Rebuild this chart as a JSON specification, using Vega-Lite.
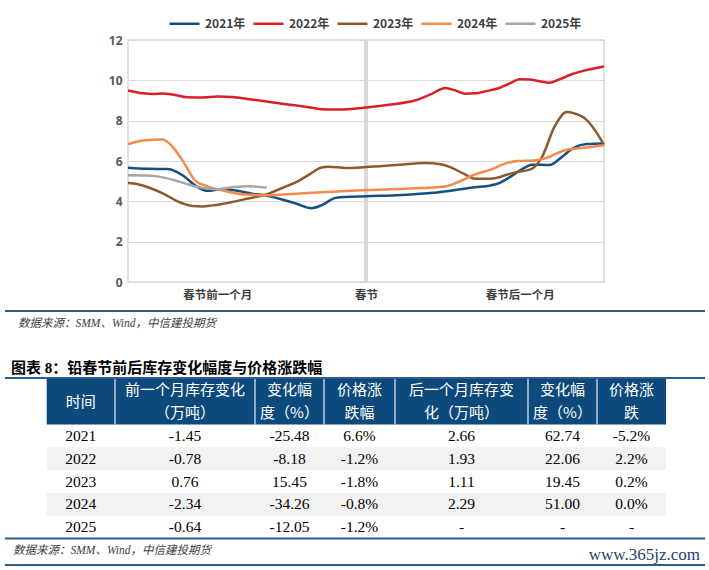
{
  "$schema": "https://vega.github.io/schema/vega-lite/v6.json",
  "width": 476,
  "height": 242,
  "autosize": {"type": "none"},
  "padding": {"left": 128, "top": 40, "right": 105, "bottom": 288},
  "background": "#ffffff",
  "config": {"view": {"stroke": "#d9d9d9", "strokeWidth": 1.5}},
  "datasets": {
    "lines": [
      {"y":"2021年","d":-48,"v":5.67},{"y":"2021年","d":-44,"v":5.61},{"y":"2021年","d":-40,"v":5.6},{"y":"2021年","d":-38.5,"v":5.5},{"y":"2021年","d":-37,"v":5.29},{"y":"2021年","d":-34,"v":4.71},{"y":"2021年","d":-32,"v":4.52},{"y":"2021年","d":-29,"v":4.61},{"y":"2021年","d":-26,"v":4.52},{"y":"2021年","d":-23,"v":4.38},{"y":"2021年","d":-20,"v":4.28},{"y":"2021年","d":-14,"v":3.88},{"y":"2021年","d":-11,"v":3.66},{"y":"2021年","d":-9,"v":3.8},{"y":"2021年","d":-6,"v":4.18},{"y":"2021年","d":0,"v":4.25},{"y":"2021年","d":6,"v":4.3},{"y":"2021年","d":13,"v":4.41},{"y":"2021年","d":18,"v":4.56},{"y":"2021年","d":22,"v":4.7},{"y":"2021年","d":25,"v":4.78},{"y":"2021年","d":27,"v":4.92},{"y":"2021年","d":29,"v":5.2},{"y":"2021年","d":31,"v":5.52},{"y":"2021年","d":33.5,"v":5.82},{"y":"2021年","d":37,"v":5.8},{"y":"2021年","d":39.5,"v":6.2},{"y":"2021年","d":42,"v":6.67},{"y":"2021年","d":44.5,"v":6.84},{"y":"2021年","d":48,"v":6.87},
      {"y":"2022年","d":-48,"v":9.5},{"y":"2022年","d":-45,"v":9.36},{"y":"2022年","d":-43,"v":9.32},{"y":"2022年","d":-41,"v":9.35},{"y":"2022年","d":-39,"v":9.3},{"y":"2022年","d":-36,"v":9.16},{"y":"2022年","d":-33,"v":9.15},{"y":"2022年","d":-30,"v":9.2},{"y":"2022年","d":-27,"v":9.17},{"y":"2022年","d":-24,"v":9.08},{"y":"2022年","d":-17,"v":8.84},{"y":"2022年","d":-12,"v":8.68},{"y":"2022年","d":-9,"v":8.57},{"y":"2022年","d":-6,"v":8.55},{"y":"2022年","d":-3,"v":8.58},{"y":"2022年","d":0,"v":8.65},{"y":"2022年","d":5,"v":8.8},{"y":"2022年","d":10,"v":9.01},{"y":"2022年","d":13,"v":9.3},{"y":"2022年","d":16,"v":9.62},{"y":"2022年","d":18,"v":9.5},{"y":"2022年","d":20,"v":9.34},{"y":"2022年","d":22,"v":9.36},{"y":"2022年","d":24,"v":9.45},{"y":"2022年","d":27,"v":9.63},{"y":"2022年","d":29,"v":9.85},{"y":"2022年","d":31,"v":10.05},{"y":"2022年","d":33,"v":10.04},{"y":"2022年","d":35,"v":9.95},{"y":"2022年","d":37,"v":9.88},{"y":"2022年","d":39,"v":10.05},{"y":"2022年","d":41.5,"v":10.3},{"y":"2022年","d":44,"v":10.48},{"y":"2022年","d":48,"v":10.69},
      {"y":"2023年","d":-48,"v":4.91},{"y":"2023年","d":-46,"v":4.85},{"y":"2023年","d":-44,"v":4.7},{"y":"2023年","d":-41,"v":4.4},{"y":"2023年","d":-38,"v":4.0},{"y":"2023年","d":-35,"v":3.77},{"y":"2023年","d":-33,"v":3.75},{"y":"2023年","d":-31,"v":3.8},{"y":"2023年","d":-27,"v":3.97},{"y":"2023年","d":-24,"v":4.13},{"y":"2023年","d":-20,"v":4.35},{"y":"2023年","d":-17,"v":4.65},{"y":"2023年","d":-14,"v":4.96},{"y":"2023年","d":-11,"v":5.4},{"y":"2023年","d":-9,"v":5.68},{"y":"2023年","d":-7.5,"v":5.72},{"y":"2023年","d":-4,"v":5.65},{"y":"2023年","d":0,"v":5.7},{"y":"2023年","d":6,"v":5.8},{"y":"2023年","d":12,"v":5.9},{"y":"2023年","d":15,"v":5.84},{"y":"2023年","d":17,"v":5.7},{"y":"2023年","d":19.5,"v":5.4},{"y":"2023年","d":22,"v":5.12},{"y":"2023年","d":25,"v":5.12},{"y":"2023年","d":29.5,"v":5.4},{"y":"2023年","d":33.5,"v":5.62},{"y":"2023年","d":35.5,"v":6.2},{"y":"2023年","d":38,"v":7.69},{"y":"2023年","d":40.5,"v":8.43},{"y":"2023年","d":42,"v":8.36},{"y":"2023年","d":44.2,"v":8.1},{"y":"2023年","d":46.2,"v":7.52},{"y":"2023年","d":48,"v":6.8},
      {"y":"2024年","d":-48,"v":6.83},{"y":"2024年","d":-45,"v":7.02},{"y":"2024年","d":-41,"v":7.06},{"y":"2024年","d":-40,"v":6.94},{"y":"2024年","d":-38.5,"v":6.55},{"y":"2024年","d":-37,"v":6.03},{"y":"2024年","d":-34.5,"v":5.04},{"y":"2024年","d":-32.5,"v":4.79},{"y":"2024年","d":-28.5,"v":4.51},{"y":"2024年","d":-25,"v":4.35},{"y":"2024年","d":-20,"v":4.3},{"y":"2024年","d":-14,"v":4.38},{"y":"2024年","d":-8,"v":4.46},{"y":"2024年","d":0,"v":4.56},{"y":"2024年","d":8,"v":4.63},{"y":"2024年","d":16,"v":4.74},{"y":"2024年","d":18.6,"v":4.96},{"y":"2024年","d":22,"v":5.34},{"y":"2024年","d":25,"v":5.56},{"y":"2024年","d":28,"v":5.87},{"y":"2024年","d":30.7,"v":6.0},{"y":"2024年","d":34,"v":6.03},{"y":"2024年","d":36,"v":6.12},{"y":"2024年","d":40,"v":6.52},{"y":"2024年","d":44,"v":6.66},{"y":"2024年","d":48,"v":6.78},
      {"y":"2025年","d":-48,"v":5.29},{"y":"2025年","d":-44,"v":5.28},{"y":"2025年","d":-42.5,"v":5.25},{"y":"2025年","d":-38.5,"v":5.04},{"y":"2025年","d":-34,"v":4.71},{"y":"2025年","d":-30,"v":4.6},{"y":"2025年","d":-26.5,"v":4.71},{"y":"2025年","d":-24,"v":4.75},{"y":"2025年","d":-20,"v":4.68}
    ],
    "rows": [
      {"i":0,"year":"2021"},{"i":1,"year":"2022"},{"i":2,"year":"2023"},{"i":3,"year":"2024"},{"i":4,"year":"2025"}
    ],
    "cells": [
      {"i":0,"c":0,"t":"2021"},{"i":0,"c":1,"t":"-1.45"},{"i":0,"c":2,"t":"-25.48"},{"i":0,"c":3,"t":"6.6%"},{"i":0,"c":4,"t":"2.66"},{"i":0,"c":5,"t":"62.74"},{"i":0,"c":6,"t":"-5.2%"},
      {"i":1,"c":0,"t":"2022"},{"i":1,"c":1,"t":"-0.78"},{"i":1,"c":2,"t":"-8.18"},{"i":1,"c":3,"t":"-1.2%"},{"i":1,"c":4,"t":"1.93"},{"i":1,"c":5,"t":"22.06"},{"i":1,"c":6,"t":"2.2%"},
      {"i":2,"c":0,"t":"2023"},{"i":2,"c":1,"t":"0.76"},{"i":2,"c":2,"t":"15.45"},{"i":2,"c":3,"t":"-1.8%"},{"i":2,"c":4,"t":"1.11"},{"i":2,"c":5,"t":"19.45"},{"i":2,"c":6,"t":"0.2%"},
      {"i":3,"c":0,"t":"2024"},{"i":3,"c":1,"t":"-2.34"},{"i":3,"c":2,"t":"-34.26"},{"i":3,"c":3,"t":"-0.8%"},{"i":3,"c":4,"t":"2.29"},{"i":3,"c":5,"t":"51.00"},{"i":3,"c":6,"t":"0.0%"},
      {"i":4,"c":0,"t":"2025"},{"i":4,"c":1,"t":"-0.64"},{"i":4,"c":2,"t":"-12.05"},{"i":4,"c":3,"t":"-1.2%"},{"i":4,"c":4,"t":"-"},{"i":4,"c":5,"t":"-"},{"i":4,"c":6,"t":"-"}
    ],
    "header": [
      {"c":0,"line":0,"n":1,"t":"时间"},
      {"c":1,"line":0,"n":2,"t":"前一个月库存变化"},{"c":1,"line":1,"n":2,"t":"（万吨）"},
      {"c":2,"line":0,"n":2,"t":"变化幅"},{"c":2,"line":1,"n":2,"t":"度（%）"},
      {"c":3,"line":0,"n":2,"t":"价格涨"},{"c":3,"line":1,"n":2,"t":"跌幅"},
      {"c":4,"line":0,"n":2,"t":"后一个月库存变"},{"c":4,"line":1,"n":2,"t":"化（万吨）"},
      {"c":5,"line":0,"n":2,"t":"变化幅"},{"c":5,"line":1,"n":2,"t":"度（%）"},
      {"c":6,"line":0,"n":2,"t":"价格涨"},{"c":6,"line":1,"n":2,"t":"跌"}
    ]
  },
  "layer": [
    {
      "layer": [
        {
          "data": {"values": [{"label": "春节"}]},
          "mark": {"type": "rule", "color": "#d9d9d9", "strokeWidth": 4},
          "encoding": {
            "x": {"datum": 0, "type": "quantitative",
              "scale": {"domain": [-48, 48], "nice": false, "zero": false},
              "axis": {"values": [-30, 0, 31], "labelExpr": "datum.value < -10 ? '春节前一个月' : (datum.value > 10 ? '春节后一个月' : '春节')", "title": null, "grid": false, "domain": false, "ticks": false, "labelPadding": 7, "labelFont": "Noto Sans CJK SC", "labelFontSize": 11.5, "labelFontWeight": "bold", "labelColor": "#404040"}}
          }
        },
        {
          "data": {"name": "lines"},
          "mark": {"type": "line", "interpolate": "monotone", "strokeWidth": 2.5},
          "encoding": {
            "x": {"field": "d", "type": "quantitative",
              "scale": {"domain": [-48, 48], "nice": false, "zero": false},
              "axis": {"values": [-30, 0, 31], "labelExpr": "datum.value < -10 ? '春节前一个月' : (datum.value > 10 ? '春节后一个月' : '春节')", "title": null, "grid": false, "domain": false, "ticks": false, "labelPadding": 7, "labelFont": "Noto Sans CJK SC", "labelFontSize": 11.5, "labelFontWeight": "bold", "labelColor": "#404040"}},
            "y": {"field": "v", "type": "quantitative",
              "scale": {"domain": [0, 12], "nice": false},
              "axis": {"values": [0, 2, 4, 6, 8, 10, 12], "title": null, "grid": true, "gridColor": "#d9d9d9", "gridWidth": 1.2, "domain": false, "ticks": false, "labelPadding": 6, "labelFont": "Noto Sans", "labelFontSize": 12, "labelFontWeight": "bold", "labelColor": "#595959"}},
            "color": {"field": "y", "type": "nominal",
              "scale": {"domain": ["2021年", "2022年", "2023年", "2024年", "2025年"], "range": ["#15507f", "#d9202a", "#8d5a2c", "#f7894c", "#a6a6a6"]},
              "legend": {"orient": "none", "legendX": 40, "legendY": -33, "direction": "horizontal", "title": null, "symbolType": "stroke", "symbolSize": 900, "symbolStrokeWidth": 2.5, "labelFont": "Noto Sans CJK SC", "labelFontSize": 12, "labelFontWeight": "bold", "labelColor": "#404040", "labelOffset": 4, "columnPadding": 2, "padding": 0}}
          }
        }
      ]
    },
    {
      "layer": [
        {
          "data": {"values": [{"part": "header"}]},
          "mark": {"type": "rect", "fill": "#0d4a7b"},
          "encoding": {
            "x": {"datum": 0, "type": "quantitative", "scale": {"domain": [-1,0,1,2,3,4,5,6,7,8], "range": [-123,-81.3,-13,127,196,267,400,469,538,577], "zero": false, "nice": false}, "axis": null},
            "x2": {"datum": 7},
            "y": {"datum": 0, "type": "quantitative", "scale": {"domain": [-4,-3,-2,-1,0,2,7,8,9], "range": [271,283.5,328,338,339,384.5,498.5,511,525], "zero": false, "nice": false}, "axis": null},
            "y2": {"datum": 2}
          }
        },
        {
          "data": {"name": "rows"},
          "transform": [
            {"filter": "datum.i % 2 == 1"},
            {"calculate": "datum.i + 2", "as": "r1"},
            {"calculate": "datum.i + 3", "as": "r2"}
          ],
          "mark": {"type": "rect", "fill": "#f2f2f2"},
          "encoding": {
            "x": {"datum": 0, "type": "quantitative", "scale": {"domain": [-1,0,1,2,3,4,5,6,7,8], "range": [-123,-81.3,-13,127,196,267,400,469,538,577], "zero": false, "nice": false}, "axis": null},
            "x2": {"datum": 7},
            "y": {"field": "r1", "type": "quantitative", "scale": {"domain": [-4,-3,-2,-1,0,2,7,8,9], "range": [271,283.5,328,338,339,384.5,498.5,511,525], "zero": false, "nice": false}, "axis": null},
            "y2": {"field": "r2"}
          }
        },
        {
          "data": {"name": "header"},
          "transform": [{"filter": "datum.c >= 1 && datum.line == 0"}],
          "mark": {"type": "rule", "color": "#e8eef5", "strokeWidth": 1.2},
          "encoding": {
            "x": {"field": "c", "type": "quantitative", "scale": {"domain": [-1,0,1,2,3,4,5,6,7,8], "range": [-123,-81.3,-13,127,196,267,400,469,538,577], "zero": false, "nice": false}, "axis": null},
            "y": {"datum": 0, "type": "quantitative", "scale": {"domain": [-4,-3,-2,-1,0,2,7,8,9], "range": [271,283.5,328,338,339,384.5,498.5,511,525], "zero": false, "nice": false}, "axis": null},
            "y2": {"datum": 2}
          }
        },
        {
          "data": {"name": "header"},
          "transform": [
            {"calculate": "datum.c + 0.5", "as": "cx"},
            {"calculate": "datum.n == 1 ? 1 : 0.5 + datum.line", "as": "cy"}
          ],
          "mark": {"type": "text", "color": "#ffffff", "font": "Noto Sans CJK SC", "fontSize": 15, "align": "center", "baseline": "middle"},
          "encoding": {
            "x": {"field": "cx", "type": "quantitative", "scale": {"domain": [-1,0,1,2,3,4,5,6,7,8], "range": [-123,-81.3,-13,127,196,267,400,469,538,577], "zero": false, "nice": false}, "axis": null},
            "y": {"field": "cy", "type": "quantitative", "scale": {"domain": [-4,-3,-2,-1,0,2,7,8,9], "range": [271,283.5,328,338,339,384.5,498.5,511,525], "zero": false, "nice": false}, "axis": null},
            "text": {"field": "t"}
          }
        },
        {
          "data": {"name": "cells"},
          "transform": [
            {"calculate": "datum.c + 0.5", "as": "cx"},
            {"calculate": "datum.i + 2.5", "as": "cy"}
          ],
          "mark": {"type": "text", "color": "#000000", "font": "Liberation Serif", "fontSize": 15.5, "align": "center", "baseline": "middle"},
          "encoding": {
            "x": {"field": "cx", "type": "quantitative", "scale": {"domain": [-1,0,1,2,3,4,5,6,7,8], "range": [-123,-81.3,-13,127,196,267,400,469,538,577], "zero": false, "nice": false}, "axis": null},
            "y": {"field": "cy", "type": "quantitative", "scale": {"domain": [-4,-3,-2,-1,0,2,7,8,9], "range": [271,283.5,328,338,339,384.5,498.5,511,525], "zero": false, "nice": false}, "axis": null},
            "text": {"field": "t"}
          }
        },
        {
          "data": {"values": [{"k": -4}, {"k": -1}, {"k": 7}, {"k": 9}]},
          "mark": {"type": "rule", "color": "#2b5c8a", "strokeWidth": 2.2},
          "encoding": {
            "x": {"datum": -1, "type": "quantitative", "scale": {"domain": [-1,0,1,2,3,4,5,6,7,8], "range": [-123,-81.3,-13,127,196,267,400,469,538,577], "zero": false, "nice": false}, "axis": null},
            "x2": {"datum": 8},
            "y": {"field": "k", "type": "quantitative", "scale": {"domain": [-4,-3,-2,-1,0,2,7,8,9], "range": [271,283.5,328,338,339,384.5,498.5,511,525], "zero": false, "nice": false}, "axis": null}
          }
        },
        {
          "data": {"values": [{"k": -3, "t": "数据来源：SMM、Wind，中信建投期货"}]},
          "mark": {"type": "text", "color": "#404040", "font": "Liberation Serif, Noto Sans CJK SC", "fontSize": 11.5, "fontStyle": "italic", "align": "left", "baseline": "middle", "dx": 13},
          "encoding": {
            "x": {"datum": -1, "type": "quantitative", "scale": {"domain": [-1,0,1,2,3,4,5,6,7,8], "range": [-123,-81.3,-13,127,196,267,400,469,538,577], "zero": false, "nice": false}, "axis": null},
            "y": {"field": "k", "type": "quantitative", "scale": {"domain": [-4,-3,-2,-1,0,2,7,8,9], "range": [271,283.5,328,338,339,384.5,498.5,511,525], "zero": false, "nice": false}, "axis": null},
            "text": {"field": "t"}
          }
        },
        {
          "data": {"values": [{"k": 8, "t": "数据来源：SMM、Wind，中信建投期货"}]},
          "mark": {"type": "text", "color": "#404040", "font": "Liberation Serif, Noto Sans CJK SC", "fontSize": 11.5, "fontStyle": "italic", "align": "left", "baseline": "middle", "dx": 8},
          "encoding": {
            "x": {"datum": -1, "type": "quantitative", "scale": {"domain": [-1,0,1,2,3,4,5,6,7,8], "range": [-123,-81.3,-13,127,196,267,400,469,538,577], "zero": false, "nice": false}, "axis": null},
            "y": {"field": "k", "type": "quantitative", "scale": {"domain": [-4,-3,-2,-1,0,2,7,8,9], "range": [271,283.5,328,338,339,384.5,498.5,511,525], "zero": false, "nice": false}, "axis": null},
            "text": {"field": "t"}
          }
        },
        {
          "data": {"values": [{"k": -2, "t": "图表 8：铅春节前后库存变化幅度与价格涨跌幅"}]},
          "mark": {"type": "text", "color": "#000000", "font": "Liberation Serif, Noto Sans CJK SC", "fontSize": 15, "fontWeight": "bold", "align": "left", "baseline": "middle", "dx": 6},
          "encoding": {
            "x": {"datum": -1, "type": "quantitative", "scale": {"domain": [-1,0,1,2,3,4,5,6,7,8], "range": [-123,-81.3,-13,127,196,267,400,469,538,577], "zero": false, "nice": false}, "axis": null},
            "y": {"field": "k", "type": "quantitative", "scale": {"domain": [-4,-3,-2,-1,0,2,7,8,9], "range": [271,283.5,328,338,339,384.5,498.5,511,525], "zero": false, "nice": false}, "axis": null},
            "text": {"field": "t"}
          }
        },
        {
          "data": {"values": [{"k": 8, "t": "www.365jz.com"}]},
          "mark": {"type": "text", "color": "#1f3f70", "font": "Liberation Serif", "fontSize": 17, "align": "right", "baseline": "middle", "dx": -5, "dy": 4},
          "encoding": {
            "x": {"datum": 8, "type": "quantitative", "scale": {"domain": [-1,0,1,2,3,4,5,6,7,8], "range": [-123,-81.3,-13,127,196,267,400,469,538,577], "zero": false, "nice": false}, "axis": null},
            "y": {"field": "k", "type": "quantitative", "scale": {"domain": [-4,-3,-2,-1,0,2,7,8,9], "range": [271,283.5,328,338,339,384.5,498.5,511,525], "zero": false, "nice": false}, "axis": null},
            "text": {"field": "t"}
          }
        }
      ]
    }
  ],
  "resolve": {"scale": {"x": "independent", "y": "independent", "color": "independent"}}
}
